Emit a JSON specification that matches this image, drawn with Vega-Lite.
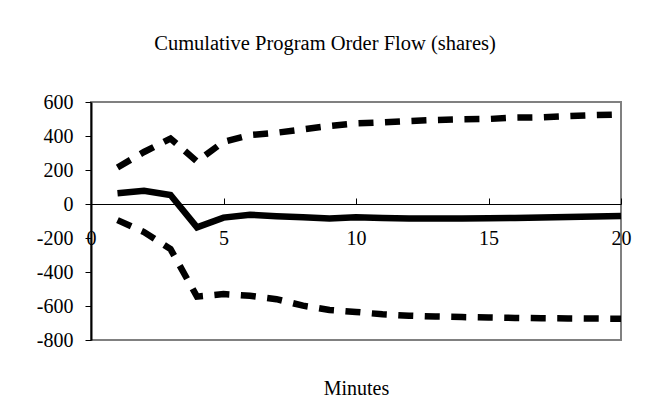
{
  "$schema": "https://vega.github.io/schema/vega-lite/v6.json",
  "width": 530,
  "height": 238,
  "autosize": {"type": "none"},
  "padding": {"left": 91, "top": 102, "right": 30, "bottom": 74},
  "background": "white",
  "title": {
    "text": "Cumulative Program Order Flow (shares)",
    "font": "Liberation Serif",
    "fontSize": 20.5,
    "fontWeight": "normal",
    "color": "black",
    "anchor": "middle",
    "frame": "group",
    "dx": -31,
    "baseline": "alphabetic",
    "offset": 22
  },
  "config": {
    "view": {"stroke": "#808080", "strokeWidth": 2}
  },
  "data": {
    "values": [
      {"minute": 1, "series": "mean", "value": 63},
      {"minute": 2, "series": "mean", "value": 78},
      {"minute": 3, "series": "mean", "value": 53},
      {"minute": 4, "series": "mean", "value": -137},
      {"minute": 5, "series": "mean", "value": -80},
      {"minute": 6, "series": "mean", "value": -63},
      {"minute": 7, "series": "mean", "value": -72},
      {"minute": 8, "series": "mean", "value": -78},
      {"minute": 9, "series": "mean", "value": -85},
      {"minute": 10, "series": "mean", "value": -78},
      {"minute": 11, "series": "mean", "value": -83},
      {"minute": 12, "series": "mean", "value": -85},
      {"minute": 13, "series": "mean", "value": -85},
      {"minute": 14, "series": "mean", "value": -85},
      {"minute": 15, "series": "mean", "value": -84},
      {"minute": 16, "series": "mean", "value": -82},
      {"minute": 17, "series": "mean", "value": -80},
      {"minute": 18, "series": "mean", "value": -77},
      {"minute": 19, "series": "mean", "value": -73},
      {"minute": 20, "series": "mean", "value": -70},
      {"minute": 1, "series": "upper", "value": 215},
      {"minute": 2, "series": "upper", "value": 306},
      {"minute": 3, "series": "upper", "value": 385},
      {"minute": 4, "series": "upper", "value": 250},
      {"minute": 5, "series": "upper", "value": 366},
      {"minute": 6, "series": "upper", "value": 406},
      {"minute": 7, "series": "upper", "value": 419},
      {"minute": 8, "series": "upper", "value": 439},
      {"minute": 9, "series": "upper", "value": 459},
      {"minute": 10, "series": "upper", "value": 474},
      {"minute": 11, "series": "upper", "value": 480},
      {"minute": 12, "series": "upper", "value": 488},
      {"minute": 13, "series": "upper", "value": 494},
      {"minute": 14, "series": "upper", "value": 498},
      {"minute": 15, "series": "upper", "value": 500},
      {"minute": 16, "series": "upper", "value": 508},
      {"minute": 17, "series": "upper", "value": 510},
      {"minute": 18, "series": "upper", "value": 517},
      {"minute": 19, "series": "upper", "value": 523},
      {"minute": 20, "series": "upper", "value": 527},
      {"minute": 1, "series": "lower", "value": -95},
      {"minute": 2, "series": "lower", "value": -165},
      {"minute": 3, "series": "lower", "value": -265},
      {"minute": 4, "series": "lower", "value": -545},
      {"minute": 5, "series": "lower", "value": -530},
      {"minute": 6, "series": "lower", "value": -540},
      {"minute": 7, "series": "lower", "value": -560},
      {"minute": 8, "series": "lower", "value": -598},
      {"minute": 9, "series": "lower", "value": -623},
      {"minute": 10, "series": "lower", "value": -635},
      {"minute": 11, "series": "lower", "value": -649},
      {"minute": 12, "series": "lower", "value": -657},
      {"minute": 13, "series": "lower", "value": -662},
      {"minute": 14, "series": "lower", "value": -665},
      {"minute": 15, "series": "lower", "value": -668},
      {"minute": 16, "series": "lower", "value": -670},
      {"minute": 17, "series": "lower", "value": -672},
      {"minute": 18, "series": "lower", "value": -673},
      {"minute": 19, "series": "lower", "value": -674},
      {"minute": 20, "series": "lower", "value": -675}
    ]
  },
  "encoding": {
    "x": {
      "field": "minute",
      "type": "quantitative",
      "scale": {"domain": [0, 20], "nice": false, "zero": false},
      "axis": {
        "values": [0, 5, 10, 15, 20],
        "offset": -136,
        "domainColor": "black",
        "domainWidth": 1,
        "tickColor": "black",
        "tickSize": -6,
        "tickWidth": 1,
        "labelPadding": 30,
        "labelFont": "Liberation Serif",
        "labelFontSize": 20,
        "labelColor": "black",
        "labelFlush": false,
        "labelOverlap": false,
        "grid": false,
        "title": "Minutes",
        "titleFont": "Liberation Serif",
        "titleFontSize": 20,
        "titleFontWeight": "normal",
        "titleColor": "black",
        "titleY": 184,
        "titleBaseline": "middle"
      }
    },
    "y": {
      "field": "value",
      "type": "quantitative",
      "scale": {"domain": [-800, 600], "nice": false},
      "axis": {
        "values": [-800, -600, -400, -200, 0, 200, 400, 600],
        "labelExpr": "'' + datum.value",
        "domainColor": "black",
        "domainWidth": 2,
        "tickColor": "black",
        "tickSize": 6,
        "tickWidth": 1,
        "labelPadding": 12,
        "labelFont": "Liberation Serif",
        "labelFontSize": 20,
        "labelColor": "black",
        "grid": false,
        "title": null
      }
    }
  },
  "layer": [
    {
      "transform": [{"filter": "datum.series === 'upper'"}],
      "mark": {"type": "line", "color": "black", "strokeWidth": 6.5, "strokeDash": [15, 11.5], "strokeCap": "butt"}
    },
    {
      "transform": [{"filter": "datum.series === 'lower'"}],
      "mark": {"type": "line", "color": "black", "strokeWidth": 6.5, "strokeDash": [15, 11.5], "strokeCap": "butt"}
    },
    {
      "transform": [{"filter": "datum.series === 'mean'"}],
      "mark": {"type": "line", "color": "black", "strokeWidth": 6.5, "strokeCap": "butt"}
    }
  ]
}
